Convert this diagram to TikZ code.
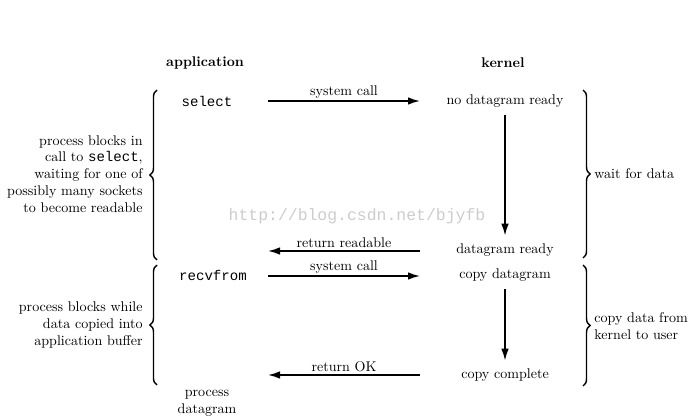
\documentclass[tikz,border=0pt]{standalone}
\usepackage{fontspec}
\setmonofont{Liberation Mono}
\usetikzlibrary{arrows.meta,decorations.pathreplacing}

\begin{document}
\begin{tikzpicture}[x=0.025cm, y=-0.025cm, every node/.style={inner sep=1.5pt}, head/.style={font=\bfseries}, code/.style={font=\ttfamily}, arr/.style={-{Latex[length=3mm, width=1.9mm]}, line width=1.2pt}, brc/.style={decorate, decoration={brace, amplitude=5pt}, line width=1pt}, lnote/.style={align=right, anchor=east}, rnote/.style={align=left, anchor=west}]
	\useasboundingbox (0,0) rectangle (695,419);
	\node[head] (app) at (205,63) {application};
	\node[head] (ker) at (503,63) {kernel};
	\node[text=gray!40, font=\ttfamily\fontsize{11.7}{12}\selectfont] (wm) at (357,216) {http://blog.csdn.net/bjyfb};
	\node[code] (sel) at (207,101) {select};
	\node[code] (recv) at (213,275) {recvfrom};
	\node[align=center] (proc) at (207,403) {process\\datagram};
	\node (nodata) at (505,101) {no datagram ready};
	\node (ready) at (505,250) {datagram ready};
	\node (copy) at (505,275) {copy datagram};
	\node (done) at (505,375) {copy complete};
	\coordinate (a1) at (268,101); \coordinate (k1) at (420,101);
	\coordinate (a2) at (268,251); \coordinate (k2) at (420,251);
	\coordinate (a3) at (268,276); \coordinate (k3) at (420,276);
	\coordinate (a4) at (268,375); \coordinate (k4) at (420,375);
	\draw[arr] (a1) -- node[above] {system call} (k1);
	\draw[arr] (k2) -- node[above] {return readable} (a2);
	\draw[arr] (a3) -- node[above] {system call} (k3);
	\draw[arr] (k4) -- node[above] {return OK} (a4);
	\draw[arr, shorten <=4pt, shorten >=4pt] (nodata) -- (ready);
	\draw[arr, shorten <=4pt, shorten >=4pt] (copy) -- (done);
	% braces
	\draw[brc] (157,260) -- (157,90);
	\draw[brc] (157,385) -- (157,265);
	\draw[brc] (583,90) -- (583,258);
	\draw[brc] (583,265) -- (583,386);
	\node[lnote] (wait1) at (145,174) {process blocks in\\call to \texttt{select},\\waiting for one of\\possibly many sockets\\to become readable};
	\node[lnote] (wait2) at (145,325) {process blocks while\\data copied into\\application buffer};
	\node[rnote] (wait3) at (592,174) {wait for data};
	\node[rnote] (wait4) at (592,326) {copy data from\\kernel to user};
\end{tikzpicture}
\end{document}
